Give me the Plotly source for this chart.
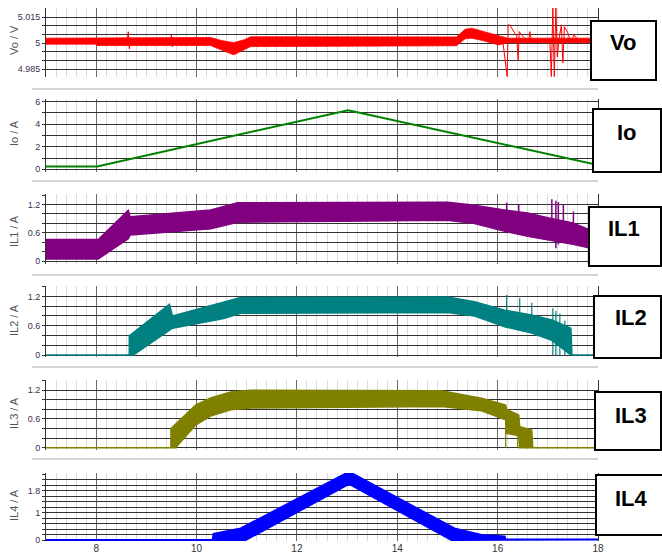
import plotly.graph_objects as go

# ---------------- data ----------------
# Vo : ripple band (upper / lower envelope) + transient spikes
vo_x = [7.0, 8.0, 8.02, 10.28, 10.5, 10.74, 10.95, 11.08, 15.18, 15.35, 15.48, 15.7, 16.02, 16.2, 18.0]
vo_up = [5.0029, 5.0029, 5.0033, 5.0033, 5.0015, 5.0003, 5.002, 5.0037, 5.0036, 5.0080, 5.0087, 5.0070, 5.0042, 5.0029, 5.0029]
vo_lo = [4.9994, 4.9994, 4.9986, 4.9986, 4.9960, 4.9932, 4.9960, 4.9980, 4.9985, 5.0025, 5.0029, 5.0015, 4.9990, 5.0003, 5.0003]
vo_sp_x = [8.62, 8.64, 8.66, 8.68, None, 9.48, 9.50, 9.52, 9.54, None,
           16.10, 16.19, 16.21, 16.24, 16.38, 16.41, 16.43, 16.56, 16.62, 16.64, 16.68, 16.74,
           17.04, 17.07, 17.10, 17.13, 17.16, 17.19, 17.22, 17.27, 17.30, 17.33, 17.40, 17.46, 17.52, 17.60, 18.0]
vo_sp_y = [5.0015, 5.0066, 4.9967, 5.0015, None, 5.0015, 5.0048, 4.9980, 5.0015, None,
           5.0019, 4.9806, 5.0106, 5.0106, 5.0040, 4.9903, 5.0067, 5.0020, 5.0010, 5.0067, 5.0010, 5.0019,
           5.0019, 4.9806, 5.0205, 4.9806, 5.0205, 4.9920, 5.0019, 5.0106, 4.9886, 5.0095, 5.0060, 5.0000, 5.0048, 5.0019, 5.0019]

# Io : load current
io_x = [7.0, 8.02, 13.02, 18.0]
io_y = [0.25, 0.25, 5.25, 0.38]

# IL1
il1_x = [7.0, 8.04, 8.64, 8.68, 10.28, 10.82, 15.0, 15.5, 16.1, 16.6, 17.0, 17.5, 17.84, 18.0]
il1_up = [0.46, 0.46, 1.08, 0.94, 1.083, 1.238, 1.25, 1.19, 1.09, 1.02, 0.92, 0.81, 0.66, 0.62]
il1_lo = [0.04, 0.04, 0.47, 0.55, 0.68, 0.82, 0.86, 0.80, 0.64, 0.52, 0.45, 0.35, 0.27, 0.25]
il1_sp_x = [16.18, 16.18, None, 16.42, 16.42, None, 17.08, 17.08, None, 17.16, 17.16, None,
            17.21, 17.21, None, 17.31, 17.31, None, 17.51, 17.51]
il1_sp_y = [1.24, 0.59, None, 1.19, 0.60, None, 1.31, 0.45, None, 1.28, 0.27, None,
            1.25, 0.35, None, 1.20, 0.40, None, 1.05, 0.59]

# IL2
il2_up_x = [7.0, 8.66, 8.66, 9.46, 9.52, 10.54, 10.88, 15.0, 15.54, 16.14, 16.68, 17.08, 17.46, 17.48, 18.0]
il2_up = [0.0, 0.0, 0.39, 1.04, 0.80, 1.09, 1.18, 1.19, 1.09, 0.92, 0.82, 0.72, 0.55, 0.0, 0.0]
il2_lo_x = [7.0, 8.74, 9.52, 10.54, 10.88, 15.0, 15.54, 16.14, 16.68, 17.08, 17.46, 18.0]
il2_lo = [0.0, 0.0, 0.55, 0.75, 0.855, 0.87, 0.80, 0.58, 0.45, 0.30, 0.0, 0.0]
il2_sp_x = [16.18, 16.18, None, 16.44, 16.44, None, 16.68, 16.68, None, 17.10, 17.10, None,
            17.16, 17.16, None, 17.24, 17.24, None, 17.34, 17.34]
il2_sp_y = [1.23, 0.58, None, 1.17, 0.55, None, 1.07, 0.48, None, 0.96, 0.0, None,
            0.90, 0.0, None, 0.85, 0.0, None, 0.70, 0.0]

# IL3
il3_up_x = [7.0, 9.49, 9.49, 9.98, 10.28, 10.68, 11.08, 14.88, 15.68, 16.16, 16.18, 16.42, 16.44, 16.68, 16.70, 18.0]
il3_up = [0.0, 0.0, 0.40, 0.89, 1.04, 1.16, 1.20, 1.19, 1.03, 0.89, 0.80, 0.68, 0.44, 0.37, 0.0, 0.0]
il3_lo_x = [7.0, 9.58, 9.98, 10.28, 10.68, 11.08, 14.88, 15.68, 16.16, 16.18, 16.42, 16.44, 16.70, 18.0]
il3_lo = [0.0, 0.0, 0.47, 0.66, 0.79, 0.83, 0.86, 0.77, 0.58, 0.30, 0.25, 0.0, 0.0, 0.0]
il3_sp_x = [16.16, 16.16, None, 16.40, 16.40]
il3_sp_y = [0.60, 0.0, None, 0.50, 0.0]

# IL4
il4_up_x = [7.0, 10.32, 10.34, 10.88, 13.04, 15.14, 15.68, 16.14, 16.16, 18.0]
il4_up = [0.0, 0.0, 0.22, 0.42, 2.48, 0.42, 0.18, 0.13, 0.02, 0.02]
il4_lo_x = [7.0, 10.98, 13.04, 15.08, 18.0]
il4_lo = [0.0, 0.0, 2.04, 0.0, 0.0]

x_ticks = [8, 10, 12, 14, 16, 18]
panel_names = ["Vo", "Io", "IL1", "IL2", "IL3", "IL4"]
axis_titles = ["Vo / V", "Io / A", "IL1 / A", "IL2 / A", "IL3 / A", "IL4 / A"]

# ---------------- layout helpers ----------------
W, H = 662, 558
def fx(p):
    return p / W
def fy(p):
    return 1 - p / H

FONT = "Liberation Sans, Arial, sans-serif"

fig = go.Figure()

def band(xu, yu, xl, yl, color, k, w=1.2):
    fig.add_trace(go.Scatter(
        x=list(xu) + list(xl)[::-1], y=list(yu) + list(yl)[::-1],
        fill="toself", fillcolor=color, mode="lines",
        line=dict(color=color, width=w), xaxis="x%d" % k, yaxis="y%d" % k,
        hoverinfo="skip", showlegend=False))

def line(x, y, color, k, w=1):
    fig.add_trace(go.Scatter(x=x, y=y, mode="lines", line=dict(color=color, width=w),
                             connectgaps=False, xaxis="x%d" % k, yaxis="y%d" % k,
                             hoverinfo="skip", showlegend=False))

RED, GREEN, PURPLE, TEAL, OLIVE, BLUE = "#ff0000", "#008000", "#800080", "#008080", "#808000", "#0000ff"

band(vo_x, vo_up, vo_x, vo_lo, RED, 1, 0.8)
line(vo_sp_x, vo_sp_y, RED, 1, 1)
line(io_x, io_y, GREEN, 2, 2)
band(il1_x, il1_up, il1_x, il1_lo, PURPLE, 3)
line(il1_sp_x, il1_sp_y, PURPLE, 3, 1.5)
band(il2_up_x, il2_up, il2_lo_x, il2_lo, TEAL, 4, 1.5)
line(il2_sp_x, il2_sp_y, TEAL, 4, 1.2)
band(il3_up_x, il3_up, il3_lo_x, il3_lo, OLIVE, 5, 1.5)
line(il3_sp_x, il3_sp_y, OLIVE, 5, 1.2)
band(il4_up_x, il4_up, il4_lo_x, il4_lo, BLUE, 6, 2)

def frange(a, b, s):
    out, v = [], a
    while v <= b + 1e-9:
        out.append(round(v, 4))
        v += s
    return out

# panel geometry: (top px, bottom px, y range, grid values, labelled values)
panels = [
    (8, 77, [4.98036, 5.0204], frange(4.985, 5.015, 0.005), {4.985: "4.985", 5.0: "5", 5.015: "5.015"}),
    (99, 172, [-0.24, 6.24], frange(0, 6, 1), {0: "0", 2: "2", 4: "4", 6: "6"}),
    (194, 264, [-0.0637, 1.4213], frange(0, 1.4, 0.2), {0: "0", 0.6: "0.6", 1.2: "1.2"}),
    (286, 357, [-0.041, 1.4143], frange(0, 1.4, 0.2), {0: "0", 0.6: "0.6", 1.2: "1.2"}),
    (380, 450, [-0.048, 1.4125], frange(0, 1.4, 0.2), {0: "0", 0.6: "0.6", 1.2: "1.2"}),
    (473, 541, [-0.036, 2.4364], frange(0, 2.4, 0.2), {0: "0", 1.0: "1", 1.8: "1.8"}),
]

layout = dict(width=W, height=H, margin=dict(l=0, r=0, t=0, b=0, autoexpand=False),
              template="none", paper_bgcolor="white", plot_bgcolor="white", showlegend=False)

for k, (top, bot, rng, grid, labels) in enumerate(panels, start=1):
    xa = dict(domain=[fx(46), fx(598)], range=[7, 18], anchor="y%d" % k, automargin=False,
              tickmode="array", tickvals=x_ticks, showgrid=True, gridcolor="#6a6a6a", gridwidth=1,
              minor=dict(tickmode="linear", tick0=7, dtick=0.2, showgrid=True, gridcolor="#dcdcdc", gridwidth=1, ticks=""),
              zeroline=False, showline=False, showticklabels=(k == 6), ticks="",
              tickfont=dict(family=FONT, size=10, color="#333"), fixedrange=True)
    ya = dict(domain=[fy(bot), fy(top)], range=rng, anchor="x%d" % k, automargin=False,
              tickmode="array", tickvals=grid,
              ticktext=[labels.get(g, "") for g in grid],
              showgrid=True, gridcolor="#333333", gridwidth=1.3, zeroline=False,
              showline=True, mirror=True, linecolor="#333", linewidth=1,
              ticks="outside", ticklen=3, tickcolor="#333",
              tickfont=dict(family=FONT, size=9, color="#3a3050"), fixedrange=True)
    layout["xaxis" if k == 1 else "xaxis%d" % k] = xa
    layout["yaxis" if k == 1 else "yaxis%d" % k] = ya

fig.update_layout(**layout)

# gray separators between panels
for ys in [89, 181, 275, 367, 459]:
    fig.add_shape(type="line", xref="paper", yref="paper", x0=fx(32), x1=fx(598), y0=fy(ys), y1=fy(ys),
                  line=dict(color="#d4d4d4", width=2))

# label boxes
boxes = [(591, 656, 21, 80, 623, 42.5), (593, 661, 109, 172, 627, 133),
         (589, 661, 207, 266, 624, 228.5), (594, 661, 296, 358, 631, 317.5),
         (595, 661, 392, 450, 631, 415), (596, 664, 475, 535, 631, 498.5)]
for name, (x0, x1, y0, y1, tx, ty) in zip(panel_names, boxes):
    fig.add_shape(type="rect", xref="paper", yref="paper", x0=fx(x0), x1=fx(x1), y0=fy(y1), y1=fy(y0),
                  line=dict(color="black", width=2), fillcolor="white", layer="above")
    fig.add_annotation(xref="paper", yref="paper", x=fx(tx), y=fy(ty), text="<b>%s</b>" % name,
                       showarrow=False, xanchor="center", yanchor="middle",
                       font=dict(family=FONT, size=22, color="black"))

# rotated y-axis titles
title_y = [40, 133, 231, 320, 413, 505]
for t, yc in zip(axis_titles, title_y):
    fig.add_annotation(xref="paper", yref="paper", x=fx(14), y=fy(yc), text=t, textangle=-90,
                       showarrow=False, xanchor="center", yanchor="middle",
                       font=dict(family=FONT, size=11, color="#555"))

fig.write_html("out.html", config={"displayModeBar": False},
               post_script="document.body.style.margin='0';document.body.style.overflow='hidden';")
